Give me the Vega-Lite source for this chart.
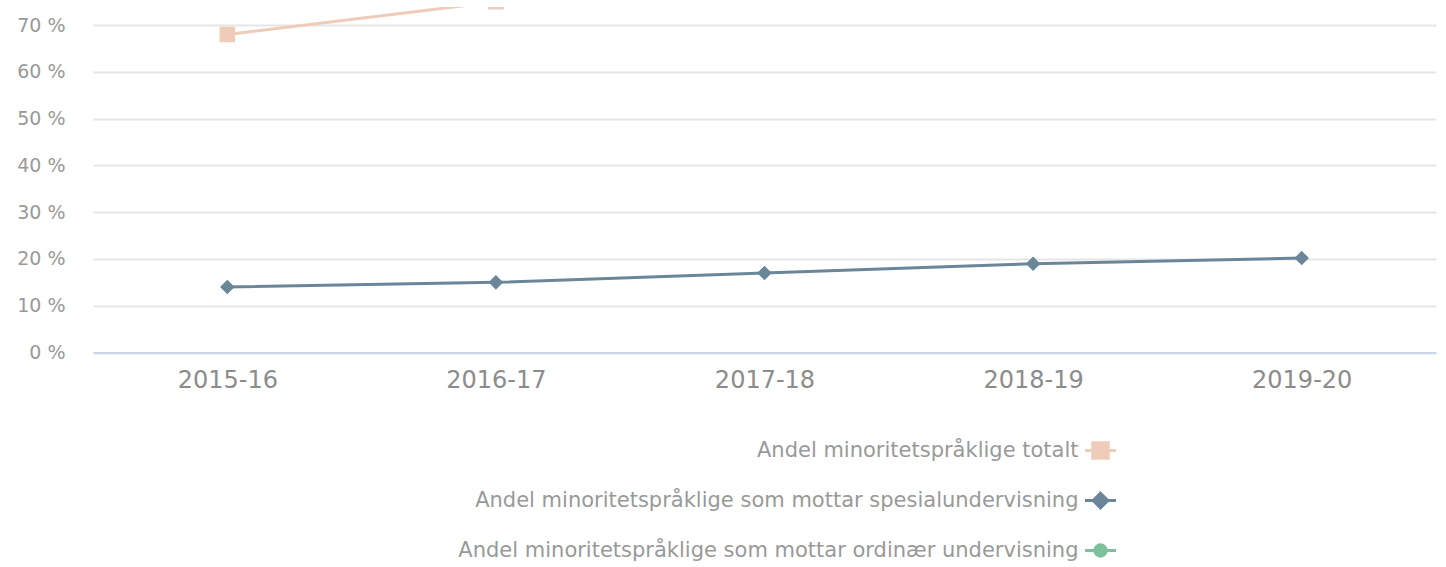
{
  "$schema": "https://vega.github.io/schema/vega-lite/v6.json",
  "width": 1343,
  "height": 345.5,
  "autosize": {"type": "none"},
  "padding": {"left": 93, "top": 7, "right": 10, "bottom": 214.5},
  "background": "white",
  "data": {
    "values": [
      {"year": "2015-16", "series": "Andel minoritetspråklige totalt", "value": 68.0},
      {"year": "2016-17", "series": "Andel minoritetspråklige totalt", "value": 75.0},
      {"year": "2017-18", "series": "Andel minoritetspråklige totalt", "value": 77.0},
      {"year": "2018-19", "series": "Andel minoritetspråklige totalt", "value": 78.0},
      {"year": "2019-20", "series": "Andel minoritetspråklige totalt", "value": 79.0},
      {"year": "2015-16", "series": "Andel minoritetspråklige som mottar spesialundervisning", "value": 14.0},
      {"year": "2016-17", "series": "Andel minoritetspråklige som mottar spesialundervisning", "value": 15.0},
      {"year": "2017-18", "series": "Andel minoritetspråklige som mottar spesialundervisning", "value": 17.0},
      {"year": "2018-19", "series": "Andel minoritetspråklige som mottar spesialundervisning", "value": 19.0},
      {"year": "2019-20", "series": "Andel minoritetspråklige som mottar spesialundervisning", "value": 20.2},
      {"year": "2015-16", "series": "Andel minoritetspråklige som mottar ordinær undervisning", "value": 78.0},
      {"year": "2016-17", "series": "Andel minoritetspråklige som mottar ordinær undervisning", "value": 80.0},
      {"year": "2017-18", "series": "Andel minoritetspråklige som mottar ordinær undervisning", "value": 82.0},
      {"year": "2018-19", "series": "Andel minoritetspråklige som mottar ordinær undervisning", "value": 83.0},
      {"year": "2019-20", "series": "Andel minoritetspråklige som mottar ordinær undervisning", "value": 84.0}
    ]
  },
  "encoding": {
    "x": {
      "field": "year",
      "type": "ordinal",
      "scale": {"type": "point", "padding": 0.5},
      "axis": {
        "title": null,
        "labelAngle": 0,
        "labelFont": "DejaVu Sans",
        "labelFontSize": 24,
        "labelColor": "#8c8c8c",
        "ticks": false,
        "grid": false,
        "domainColor": "#ccd6eb",
        "domainWidth": 2,
        "labelPadding": 16
      }
    },
    "y": {
      "field": "value",
      "type": "quantitative",
      "scale": {"domain": [0, 73.9], "nice": false, "zero": true},
      "axis": {
        "title": null,
        "values": [0, 10, 20, 30, 40, 50, 60, 70],
        "labelExpr": "datum.value + ' %'",
        "labelFont": "DejaVu Sans",
        "labelFontSize": 19,
        "labelColor": "#999999",
        "ticks": false,
        "domain": false,
        "gridColor": "#e6e6e6",
        "gridWidth": 2,
        "labelPadding": 28
      }
    },
    "color": {
      "field": "series",
      "type": "nominal",
      "scale": {
        "domain": ["Andel minoritetspråklige totalt", "Andel minoritetspråklige som mottar spesialundervisning", "Andel minoritetspråklige som mottar ordinær undervisning"],
        "range": ["#efcbba", "#6b8599", "#7cc19c"]
      }
    }
  },
  "layer": [
    {
      "mark": {"type": "line", "strokeWidth": 3, "clip": true}
    },
    {
      "mark": {"type": "point", "filled": true, "opacity": 1, "strokeWidth": 0, "size": 961, "clip": true},
      "encoding": {
        "shape": {
          "field": "series",
          "type": "nominal",
          "scale": {
            "domain": ["Andel minoritetspråklige totalt", "Andel minoritetspråklige som mottar spesialundervisning", "Andel minoritetspråklige som mottar ordinær undervisning"],
            "range": [
              "M-1,0H1M-0.5,-0.5H0.5V0.5H-0.5Z",
              "M-1,0H1M0,-0.47L0.47,0L0,0.47L-0.47,0Z",
              "M-1,0H1M-0.37,0A0.37,0.37,0,1,0,0.37,0A0.37,0.37,0,1,0,-0.37,0Z"
            ]
          }
        }
      }
    }
  ],
  "config": {
    "view": {"stroke": null},
    "legend": {
      "title": null,
      "orient": "none",
      "legendX": 990.5,
      "legendY": 426.5,
      "direction": "vertical",
      "labelAlign": "right",
      "labelOffset": -39,
      "symbolOffset": 0,
      "symbolSize": 961,
      "symbolStrokeWidth": 3,
      "labelFont": "DejaVu Sans",
      "labelFontSize": 21,
      "labelColor": "#999999",
      "labelLimit": 0,
      "rowPadding": 19,
      "padding": 0
    }
  }
}
